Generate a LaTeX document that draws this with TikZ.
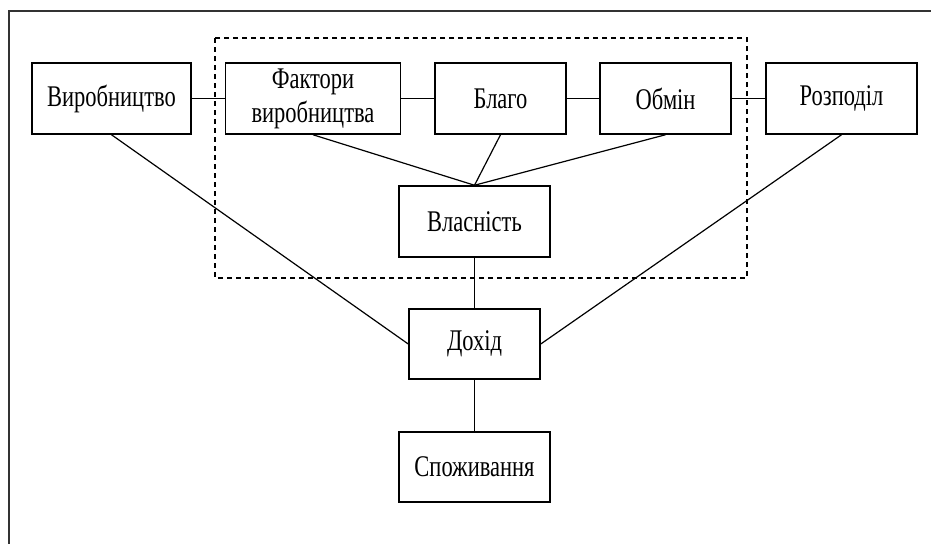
\documentclass[tikz,border=0pt]{standalone}
\usepackage{fontspec}
\setmainfont{Liberation Serif}[FakeStretch=0.75]
\begin{document}
\begin{tikzpicture}[x=1pt,y=-1pt,
  box/.style={draw, line width=1.5pt, rectangle, inner sep=0pt, minimum height=71pt, align=center, font=\fontsize{30}{36}\selectfont},
  link/.style={line width=1.2pt},
  frameline/.style={draw=black!80, line width=2.2pt}]
\useasboundingbox (0,0) rectangle (931,544);
\fill[white] (0,0) rectangle (931,544);
\coordinate (fTL) at (9,11);
\coordinate (fTR) at (931,11);
\coordinate (fBL) at (9,544);
\draw[frameline] (fTR) -- (fTL) -- (fBL);
\draw[line width=1.3pt, dash pattern=on 5pt off 4pt] (215,38) rectangle (747,278);
\node[box, minimum width=159pt] (vyr) at (111.5,98.5) {Виробництво};
\node[box, minimum width=175pt] (fak) at (313,98.5) {Фактори\\[-2pt]виробництва};
\node[box, minimum width=131pt] (bla) at (500.5,98.5) {Благо};
\node[box, minimum width=131pt] (obm) at (665.5,98.5) {Обмін};
\node[box, minimum width=151pt] (roz) at (841.5,98.5) {Розподіл};
\node[box, minimum width=151pt] (vla) at (474.5,221.5) {Власність};
\node[box, minimum width=131pt, minimum height=70pt] (dox) at (474.5,344) {Дохід};
\node[box, minimum width=151pt, minimum height=70pt] (spo) at (474.5,467) {Споживання};
\draw[link] (vyr.east) -- (fak.west);
\draw[link] (fak.east) -- (bla.west);
\draw[link] (bla.east) -- (obm.west);
\draw[link] (obm.east) -- (roz.west);
\draw[link] (fak.south) -- (vla.north);
\draw[link] (bla.south) -- (vla.north);
\draw[link] (obm.south) -- (vla.north);
\draw[link] (vla.south) -- (dox.north);
\draw[link] (dox.south) -- (spo.north);
\draw[link] (vyr.south) -- (dox.west);
\draw[link] (roz.south) -- (dox.east);
\end{tikzpicture}
\end{document}
